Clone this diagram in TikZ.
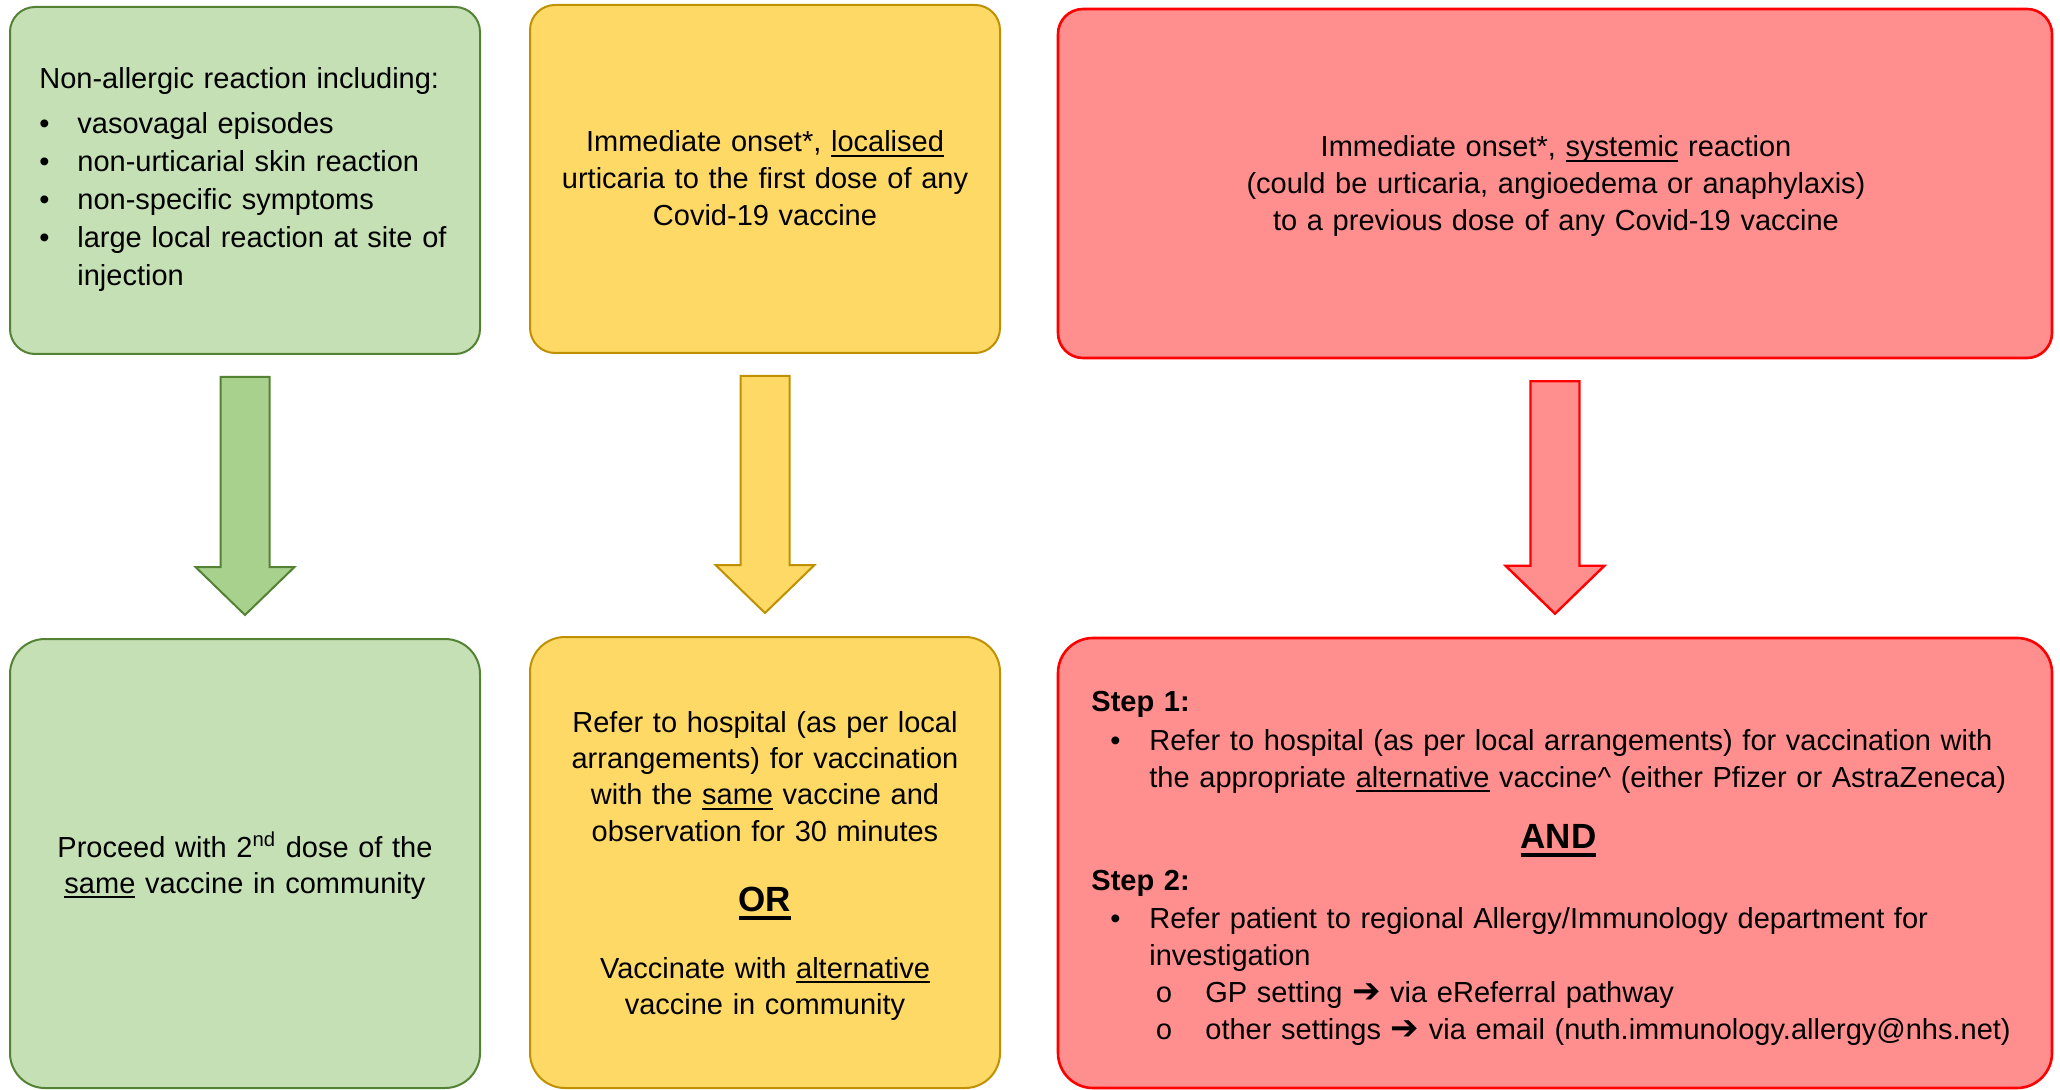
\documentclass[tikz,border=0pt]{standalone}
\usepackage{fontspec}
\setmainfont{Liberation Sans}
\newfontfamily\symfont{DejaVu Sans}
\newfontfamily\cfont{Liberation Mono}
\usetikzlibrary{fit,calc}

\definecolor{gfill}{HTML}{C5E0B4}
\definecolor{gline}{HTML}{548235}
\definecolor{garrow}{HTML}{A9D18E}
\definecolor{yfill}{HTML}{FFD966}
\definecolor{yline}{HTML}{BF9000}
\definecolor{rfill}{HTML}{FF8F8F}
\definecolor{rline}{HTML}{FF0000}

\newsavebox{\ulbox}
\newcommand\ul[1]{\leavevmode\sbox\ulbox{#1}\rlap{\rule[-2.4pt]{\wd\ulbox}{1pt}}\usebox\ulbox}
\newcommand\ulb[1]{\leavevmode\sbox\ulbox{#1}\rlap{\rule[-4.5pt]{\wd\ulbox}{2pt}}\usebox\ulbox}
\newcommand\bul[1]{\par\noindent\makebox[19pt][l]{•}#1}
\newcommand\rbul[1]{\par\noindent\hspace*{9.5pt}\makebox[19.5pt][l]{•}#1}
\newcommand\sbul[1]{\par\noindent\hspace*{32pt}\makebox[25pt][l]{\cfont o}#1}
\newcommand\cont[2]{\par\noindent\hspace*{#1}#2}
\newcommand\arr{{\symfont\fontsize{17pt}{17pt}\selectfont ➔}}
\newcommand\bigword[1]{{\fontsize{17.5pt}{18.5pt}\selectfont\bfseries\ulb{#1}}}

\tikzset{
  box/.style={rounded corners=12.5pt, line width=1pt, inner sep=0pt},
  tallbox/.style={box, rounded corners=17.5pt},
  gbox/.style={fill=gfill, draw=gline},
  ybox/.style={fill=yfill, draw=yline},
  rbox/.style={fill=rfill, draw=rline, line width=1.3pt},
  txt/.style={inner sep=0pt, font=\fontsize{14.5pt}{18.3pt}\selectfont},
  garr/.style={fill=garrow, draw=gline, line width=1pt, line join=miter},
  yarr/.style={fill=yfill, draw=yline, line width=1pt, line join=miter},
  rarr/.style={fill=rfill, draw=rline, line width=1.2pt, line join=miter},
}

% block arrow: #1 style, #2 from node, #3 to node
\newcommand\blockarrow[3]{%
  \coordinate (#2-at) at ($(#2.south)+(0,22)$);
  \coordinate (#2-tp) at (#2-at |- #3.north);
  \coordinate (#2-ah) at ($(#2-tp)+(0,-23)$);
  \draw[#1] ($(#2-at)+(-24.5,0)$) -- ($(#2-at)+(24.5,0)$) -- ($(#2-ah)+(24.5,-48)$)
    -- ($(#2-ah)+(49.5,-48)$) -- (#2-ah) -- ($(#2-ah)+(-49.5,-48)$)
    -- ($(#2-ah)+(-24.5,-48)$) -- cycle;
}

\begin{document}
\begin{tikzpicture}[x=0.5pt, y=-0.5pt]
\useasboundingbox (0,0) rectangle (2060,1090);

% boxes
\node[box, gbox, fit={(10,7) (480,354)}] (g1) {};
\node[box, ybox, fit={(530,5) (1000,353)}] (y1) {};
\node[box, rbox, fit={(1058,9) (2052,358)}] (r1) {};
\node[tallbox, gbox, fit={(10,639) (480,1088)}] (g2) {};
\node[tallbox, ybox, fit={(530,637) (1000,1088)}] (y2) {};
\node[tallbox, rbox, fit={(1058,638) (2052,1088)}] (r2) {};

% arrows
\blockarrow{garr}{g1}{g2}
\blockarrow{yarr}{y1}{y2}
\blockarrow{rarr}{r1}{r2}

% texts
\node[txt, font=\fontsize{14.5pt}{19pt}\selectfont, anchor=base west, text width=215pt, align=left] (g1t) at (39,89) {%
Non-allergic reaction including:\par\vspace{3.5pt}%
\bul{vasovagal episodes}%
\bul{non-urticarial skin reaction}%
\bul{non-specific symptoms}%
\bul{large local reaction at site of}%
\cont{19pt}{injection}};

\node[txt, anchor=base, text width=225pt, align=center] (y1t) at (765,152) {%
Immediate onset*, \ul{localised}\\urticaria to the first dose of any\\Covid-19 vaccine};

\node[txt, anchor=base, text width=450pt, align=center] (r1t) at (1556,157) {%
Immediate onset*, \ul{systemic} reaction\\(could be urticaria, angioedema or anaphylaxis)\\to a previous dose of any Covid-19 vaccine};

\node[txt, font=\fontsize{14.5pt}{18pt}\selectfont, anchor=base, text width=225pt, align=center] (g2t) at (245,857) {%
Proceed with 2\textsuperscript{nd} dose of the\\\ul{same} vaccine in community};

\node[txt, font=\fontsize{14.5pt}{18.2pt}\selectfont, anchor=base, text width=230pt, align=center] (y2t) at (765,732) {%
Refer to hospital (as per local\\arrangements) for vaccination\\with the \ul{same} vaccine and\\observation for 30 minutes\par\vspace{16.8pt}%
\bigword{OR}\par\vspace{15.3pt}%
Vaccinate with \ul{alternative}\\vaccine in community};

\node[txt, font=\fontsize{14.5pt}{18.5pt}\selectfont, anchor=base west, text width=467pt, align=left] (r2t) at (1091,711) {%
\textbf{Step 1:}\par\vspace{1pt}%
\rbul{Refer to hospital (as per local arrangements) for vaccination with}%
\cont{29pt}{the appropriate \ul{alternative} vaccine\textasciicircum{} (either Pfizer or AstraZeneca)}%
\par\vspace{12pt}\noindent\makebox[\linewidth][c]{\bigword{AND}}%
\par\vspace{2.5pt}\noindent\textbf{Step 2:}\par\vspace{0.5pt}%
\rbul{Refer patient to regional Allergy/Immunology department for}%
\cont{29pt}{investigation}%
\sbul{GP setting \arr{} via eReferral pathway}%
\sbul{other settings \arr{} via email (nuth.immunology.allergy@nhs.net)}};

\end{tikzpicture}
\end{document}
